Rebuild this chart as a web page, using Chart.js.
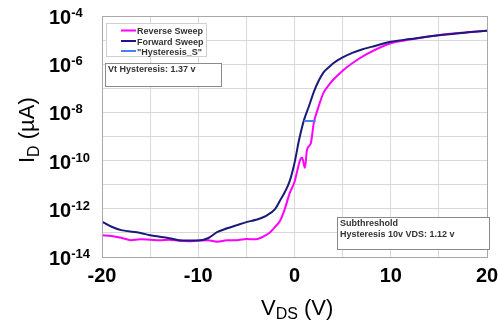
<!DOCTYPE html>
<html>
<head>
<meta charset="utf-8">
<script src="https://cdn.jsdelivr.net/npm/chart.js@4/dist/chart.umd.min.js"></script>
<style>
    html, body { margin: 0; padding: 0; background: #fff; }
    #wrap { width: 498px; height: 323px; position: relative; }
</style>
</head>
<body>
<div id="wrap"><canvas id="chart" width="498" height="323"></canvas></div>
<script>
// Reverse sweep (magenta)
const reverseV = [-20, -19, -18, -17, -16, -15, -14, -13, -12, -11, -10, -9, -8, -7, -6, -5, -4, -3.5, -3, -2.5, -2, -1.5, -1, -0.5, 0, 0.3, 0.6, 0.8, 1.08, 1.3, 1.7, 2.0, 2.4, 3, 3.5, 4, 5, 6, 7.5, 10, 12, 14.5, 17, 20];
const reverseI = [8e-14, 7.5e-14, 6.3e-14, 5e-14, 5.4e-14, 5.2e-14, 5e-14, 5.2e-14, 4.7e-14, 4.5e-14, 4.8e-14, 5e-14, 4.3e-14, 5e-14, 5e-14, 5.6e-14, 5.4e-14, 6.3e-14, 8e-14, 1.1e-13, 1.8e-13, 3.2e-13, 1e-12, 4.5e-12, 1.3e-11, 4e-11, 1.1e-10, 1.3e-10, 5e-11, 2.8e-10, 5.4e-10, 3.6e-9, 1.3e-8, 6.3e-8, 1.26e-7, 2.2e-7, 5.4e-7, 1.1e-6, 2.6e-6, 7.4e-6, 1.05e-5, 1.5e-5, 1.95e-5, 2.45e-5];

// Forward sweep (navy)
const forwardV = [-20, -19, -18, -16, -15, -14, -13, -12, -11, -10, -9, -8, -7, -6, -5, -4, -3, -2, -1.5, -1, -0.5, 0, 0.5, 1, 1.5, 2, 2.5, 3, 3.5, 4, 5, 6, 7, 8, 10, 12, 15, 18, 20];
const forwardI = [2.95e-13, 1.8e-13, 1.3e-13, 1e-13, 8e-14, 6.9e-14, 6e-14, 5e-14, 4.8e-14, 4.8e-14, 6e-14, 1.1e-13, 1.55e-13, 2.1e-13, 2.8e-13, 3.5e-13, 5e-13, 1e-12, 2.2e-12, 5e-12, 1.4e-11, 8e-11, 8e-10, 5e-9, 1.8e-8, 7e-8, 2e-7, 4.5e-7, 7.1e-7, 1.07e-6, 1.9e-6, 2.95e-6, 4.1e-6, 5.25e-6, 8.5e-6, 1.1e-5, 1.6e-5, 2.1e-5, 2.45e-5];

// "Hysteresis_S" marker
const hysteresisV = [0.97, 2.19];
const hysteresisI = [4.4e-9, 4.4e-9];

const yTicks = [1e-14, 1e-13, 1e-12, 1e-11, 1e-10, 1e-9, 1e-8, 1e-7, 1e-6, 1e-5, 1e-4];
const yLabelExps = [-14, -12, -10, -8, -6, -4];
const xLabels = [-20, -10, 0, 10, 20];

const legendItems = [
    { text: 'Reverse Sweep', color: '#ff00ff' },
    { text: 'Forward Sweep', color: '#1a1a78' },
    { text: '"Hysteresis_S"', color: '#4a7ff0' }
];

const toPoints = (xs, ys) => xs.map((x, i) => ({ x: x, y: ys[i] }));

const FONT = '"Liberation Sans", Arial, sans-serif';

// Frame, tick labels, titles and annotation boxes
const decorPlugin = {
    id: 'decor',
    afterDraw(chart) {
        const ctx = chart.ctx;
        const area = chart.chartArea;
        const xs = chart.scales.x;
        const ys = chart.scales.y;

        ctx.save();
        // plot frame
        ctx.strokeStyle = '#a8a8a8';
        ctx.lineWidth = 1;
        ctx.strokeRect(Math.round(area.left) + 0.5, Math.round(area.top) + 0.5,
            Math.round(area.right - area.left), Math.round(area.bottom - area.top));

        ctx.fillStyle = '#000';
        // y tick labels 10^n
        yLabelExps.forEach(e => {
            const py = ys.getPixelForValue(Math.pow(10, e));
            ctx.textAlign = 'left';
            ctx.textBaseline = 'alphabetic';
            ctx.font = 'bold 20px ' + FONT;
            ctx.fillText('10', 49, py + 8);
            const w = ctx.measureText('10').width;
            ctx.font = 'bold 13px ' + FONT;
            ctx.fillText(String(e), 49 + w, py + 1);
        });

        // x tick labels
        ctx.font = 'bold 20px ' + FONT;
        ctx.textAlign = 'center';
        xLabels.forEach(v => {
            ctx.fillText(String(v), xs.getPixelForValue(v), 282);
        });

        // x title: V_DS (V)
        ctx.textAlign = 'left';
        ctx.font = '22px ' + FONT;
        let x0 = 261;
        ctx.fillText('V', x0, 315);
        x0 += ctx.measureText('V').width;
        ctx.font = '16px ' + FONT;
        ctx.fillText('DS', x0, 319);
        x0 += ctx.measureText('DS').width;
        ctx.font = '22px ' + FONT;
        ctx.fillText(' (V)', x0, 315);

        // y title: I_D (µA), rotated
        ctx.translate(34, 163);
        ctx.rotate(-Math.PI / 2);
        ctx.font = '22px ' + FONT;
        let t0 = 0;
        ctx.fillText('I', t0, 0);
        t0 += ctx.measureText('I').width;
        ctx.font = '16px ' + FONT;
        ctx.fillText('D', t0, 5);
        t0 += ctx.measureText('D').width;
        ctx.font = '22px ' + FONT;
        ctx.fillText(' (\u00b5A)', t0, 0);
        ctx.setTransform(1, 0, 0, 1, 0, 0);

        // legend box
        ctx.fillStyle = '#fff';
        ctx.fillRect(106, 23, 100, 33);
        ctx.strokeStyle = '#d0d0d0';
        ctx.strokeRect(106.5, 23.5, 100, 33);
        const rowY = [30.5, 41, 51];
        ctx.font = 'bold 9px ' + FONT;
        legendItems.forEach((item, i) => {
            ctx.strokeStyle = item.color;
            ctx.lineWidth = 2;
            ctx.beginPath();
            ctx.moveTo(121, rowY[i]);
            ctx.lineTo(136, rowY[i]);
            ctx.stroke();
            ctx.fillStyle = '#333';
            ctx.fillText(item.text, 137, rowY[i] + 3.5);
        });

        // annotation boxes
        const drawBox = (x, y, w, h, lines) => {
            ctx.fillStyle = '#fff';
            ctx.fillRect(x, y, w, h);
            ctx.strokeStyle = '#8a8a8a';
            ctx.lineWidth = 1;
            ctx.strokeRect(x + 0.5, y + 0.5, w, h);
            ctx.fillStyle = '#333';
            ctx.font = 'bold 9px ' + FONT;
            lines.forEach((s, i) => ctx.fillText(s, x + 3, y + 9 + i * 11));
        };
        drawBox(105, 63, 116, 23, ['Vt Hysteresis: 1.37 v']);
        drawBox(337, 217, 152, 32, ['Subthreshold', 'Hysteresis 10v VDS: 1.12 v']);
        ctx.restore();
    }
};

new Chart(document.getElementById('chart'), {
    type: 'line',
    data: {
        datasets: [
            {
                label: 'Forward Sweep',
                data: toPoints(forwardV, forwardI),
                borderColor: '#1a1a78',
                borderWidth: 2,
                pointRadius: 0,
                cubicInterpolationMode: 'monotone',
                order: 1
            },
            {
                label: 'Reverse Sweep',
                data: toPoints(reverseV, reverseI),
                borderColor: '#ff00ff',
                borderWidth: 2,
                pointRadius: 0,
                cubicInterpolationMode: 'monotone',
                order: 2
            },
            {
                label: '"Hysteresis_S"',
                data: toPoints(hysteresisV, hysteresisI),
                borderColor: '#4a7ff0',
                borderWidth: 2,
                pointRadius: 0,
                order: 0
            }
        ]
    },
    options: {
        responsive: false,
        animation: false,
        layout: { padding: { top: 16, right: 11, left: 0, bottom: 0 } },
        plugins: {
            legend: { display: false },
            tooltip: { enabled: false }
        },
        scales: {
            x: {
                type: 'linear',
                min: -20,
                max: 20,
                ticks: { display: false, stepSize: 5 },
                grid: { color: '#d8d8d8', drawTicks: false },
                border: { display: false },
                afterFit: (axis) => { axis.height = 66; }
            },
            y: {
                type: 'logarithmic',
                min: 1e-14,
                max: 1e-4,
                ticks: { display: false },
                afterBuildTicks: (axis) => { axis.ticks = yTicks.map(v => ({ value: v })); },
                grid: { color: '#d8d8d8', drawTicks: false },
                border: { display: false },
                afterFit: (axis) => { axis.width = 102; }
            }
        }
    },
    plugins: [decorPlugin]
});
</script>
</body>
</html>
